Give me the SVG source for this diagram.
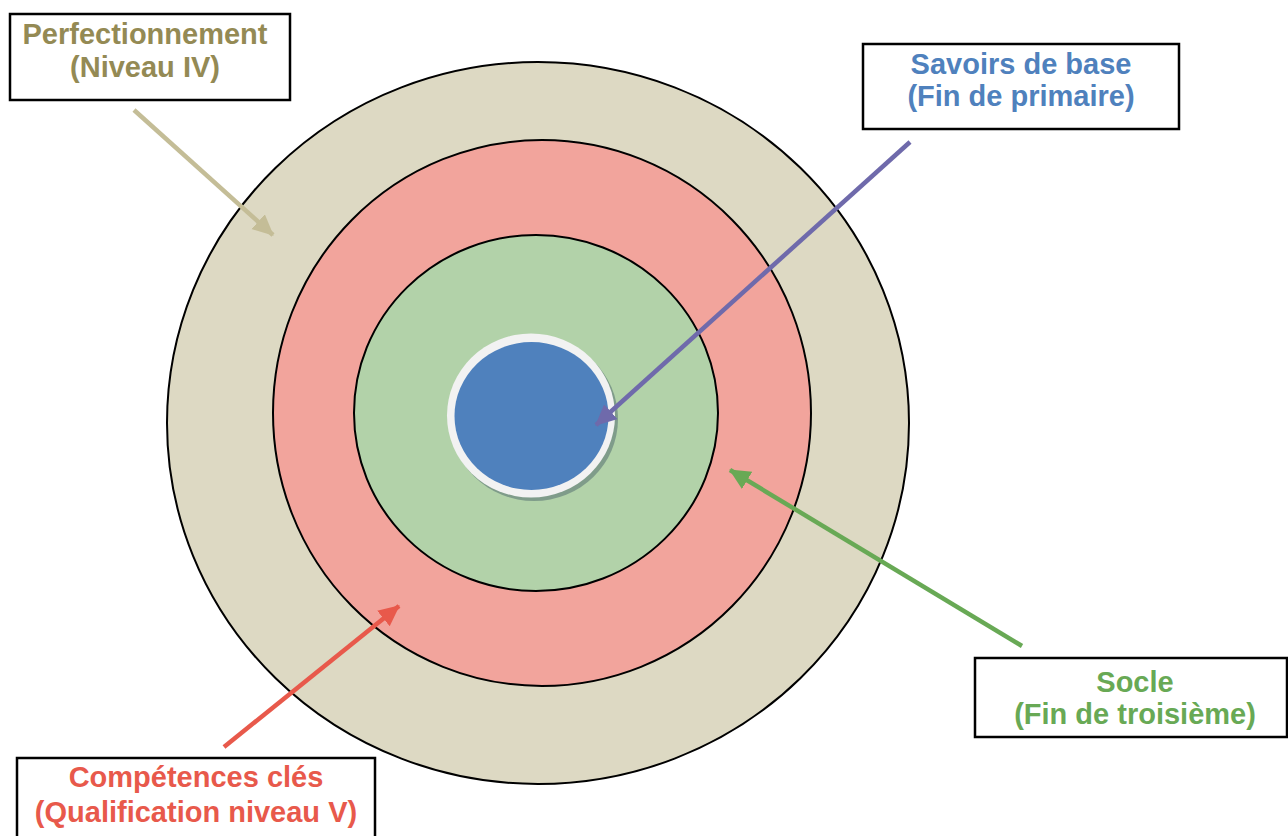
<svg xmlns="http://www.w3.org/2000/svg" width="1288" height="836" viewBox="0 0 1288 836">
<style>
.box{fill:#fff;stroke:#000;stroke-width:2.5}
.ring{stroke:#000;stroke-width:2}
.lbl{font-family:"Liberation Sans",Arial,sans-serif;font-weight:bold;font-size:29px;text-anchor:middle}
.arr{stroke-width:4.5;fill:none}
</style>
<defs>
<marker id="hBeige" markerUnits="userSpaceOnUse" markerWidth="24" markerHeight="22" refX="20" refY="10" orient="auto"><path d="M0,0 L21,10 L0,20 Z" fill="#C4BD97"/></marker>
<marker id="hPurple" markerUnits="userSpaceOnUse" markerWidth="24" markerHeight="22" refX="20" refY="10" orient="auto"><path d="M0,0 L21,10 L0,20 Z" fill="#6F6AAB"/></marker>
<marker id="hGreen" markerUnits="userSpaceOnUse" markerWidth="24" markerHeight="22" refX="20" refY="10" orient="auto"><path d="M0,0 L21,10 L0,20 Z" fill="#68A955"/></marker>
<marker id="hRed" markerUnits="userSpaceOnUse" markerWidth="24" markerHeight="22" refX="20" refY="10" orient="auto"><path d="M0,0 L21,10 L0,20 Z" fill="#E8594B"/></marker>
</defs>
<g id="target">
<ellipse class="ring" cx="538" cy="423" rx="371" ry="361" fill="#DDD9C3"/>
<ellipse class="ring" cx="542" cy="413" rx="269" ry="273" fill="#F2A49C"/>
<ellipse class="ring" cx="536" cy="413" rx="182" ry="178" fill="#B2D2A9"/>
<ellipse cx="534" cy="419" rx="84" ry="82" fill="#7F9C8A"/>
<ellipse cx="531" cy="415.5" rx="84" ry="82" fill="#F2F2F2"/>
<ellipse cx="531.5" cy="416" rx="77" ry="74" fill="#4F81BD"/>
</g>
<g id="connectors">
<line class="arr" x1="134" y1="110" x2="273" y2="235" stroke="#C4BD97" marker-end="url(#hBeige)"/>
<line class="arr" x1="910" y1="142" x2="596" y2="425" stroke="#6F6AAB" marker-end="url(#hPurple)"/>
<line class="arr" x1="1022" y1="646" x2="730" y2="470" stroke="#68A955" marker-end="url(#hGreen)"/>
<line class="arr" x1="224" y1="747" x2="399" y2="606" stroke="#E8594B" marker-end="url(#hRed)"/>
</g>
<g id="perfectionnement">
<rect class="box" x="10" y="14" width="280" height="86"/>
<text class="lbl" fill="#948A54"><tspan x="145" y="44">Perfectionnement</tspan><tspan x="145" y="77">(Niveau IV)</tspan></text>
</g>
<g id="savoirs">
<rect class="box" x="863" y="44" width="316" height="85"/>
<text class="lbl" fill="#4F81BD"><tspan x="1021" y="74">Savoirs de base</tspan><tspan x="1021" y="106">(Fin de primaire)</tspan></text>
</g>
<g id="socle">
<rect class="box" x="975" y="658" width="312" height="79"/>
<text class="lbl" fill="#68A955"><tspan x="1135" y="692">Socle</tspan><tspan x="1135" y="724">(Fin de troisième)</tspan></text>
</g>
<g id="competences">
<rect class="box" x="17" y="758" width="358" height="100"/>
<text class="lbl" fill="#E8594B"><tspan x="196" y="787">Compétences clés</tspan><tspan x="196" y="822">(Qualification niveau V)</tspan></text>
</g>
</svg>
